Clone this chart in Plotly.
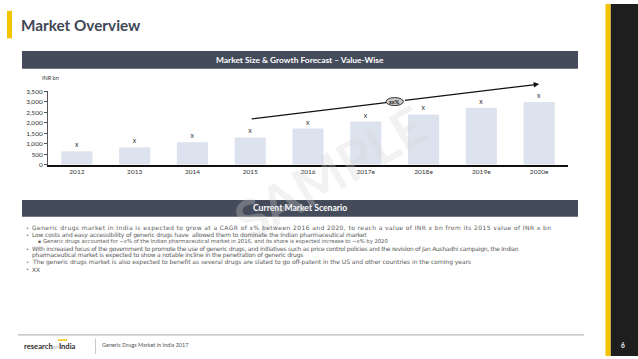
import plotly.graph_objects as go

W, H = 638, 359

years = ["2012", "2013", "2014", "2015", "2016", "2017e", "2018e", "2019e", "2020e"]
market_size = [650, 840, 1070, 1305, 1725, 2055, 2395, 2720, 2985]
bar_labels = ["x"] * len(years)
y_ticks = [0, 500, 1000, 1500, 2000, 2500, 3000, 3500]

cagr_label = "xx%"
trend_start = (3, 2180)     # (category index, value)
trend_end = (8, 3840)

bullets = [
    (0, "Generic drugs market in India is expected to grow at a CAGR of x% between 2016 and 2020, to reach a value of INR x bn from its 2015 value of INR x bn"),
    (0, "Low costs and easy accessibility of generic drugs have  allowed them to dominate the Indian pharmaceutical market"),
    (1, "Generic drugs accounted for ~x% of the Indian pharmaceutical market in 2016, and its share is expected increase to ~x% by 2020"),
    (0, "With increased focus of the government to promote the use of generic drugs, and initiatives such as price control policies and the revision of Jan Aushadhi campaign, the Indian"),
    (2, "pharmaceutical market is expected to show a notable incline in the penetration of generic drugs"),
    (0, "The generic drugs market is also expected to benefit as several drugs are slated to go off-patent in the US and other countries in the coming years"),
    (0, "XX"),
]
# per-line letter spacing (px), styling only
bullet_spacing = [0.4, -0.15, -0.03, -0.25, -0.2, -0.03, 0]

FONT = "Lato"
BFONT = "DejaVu Sans"
BAND = "#444b5b"
YEL = "#f5c400"


def px(x):
    return x / W


def py(y):
    return 1 - y / H


fig = go.Figure()
fig.add_trace(go.Bar(
    x=years, y=market_size, text=bar_labels, textposition="outside",
    marker=dict(color="#dde3ee", line=dict(width=0)),
    textfont=dict(family=FONT, size=7, color="#333333"),
    cliponaxis=False, hoverinfo="skip",
))

shapes = [
    dict(type="rect", xref="paper", yref="paper", x0=px(7), x1=px(12), y0=py(35), y1=py(7),
         fillcolor=YEL, line=dict(width=0)),
    dict(type="rect", xref="paper", yref="paper", x0=px(22), x1=px(578), y0=py(66), y1=py(48),
         fillcolor=BAND, line=dict(width=0)),
    dict(type="rect", xref="paper", yref="paper", x0=px(22), x1=px(578), y0=py(217), y1=py(200),
         fillcolor=BAND, line=dict(width=0)),
    dict(type="rect", xref="paper", yref="paper", x0=px(610.5), x1=1, y0=0, y1=1,
         fillcolor="#1e1e1e", line=dict(width=0)),
    dict(type="rect", xref="paper", yref="paper", x0=px(605.5), x1=px(610.5), y0=0, y1=1,
         fillcolor=YEL, line=dict(width=0)),
    dict(type="line", xref="paper", yref="paper", x0=px(18), x1=px(584), y0=py(337.5), y1=py(337.5),
         line=dict(color="#a6a6a6", width=1)),
    dict(type="line", xref="paper", yref="paper", x0=px(95.5), x1=px(95.5), y0=py(357), y1=py(341),
         line=dict(color="#bbbbbb", width=0.8)),
    dict(type="rect", xref="paper", yref="paper", x0=px(58), x1=px(67), y0=py(343.5), y1=py(342),
         fillcolor=YEL, line=dict(width=0)),
]

ex = (trend_start[0] + trend_end[0]) / 2
slope = (trend_end[1] - trend_start[1]) / (trend_end[0] - trend_start[0])
ey = trend_start[1] + slope * (ex - trend_start[0])
ew, eh = 0.15, 190
shapes.append(dict(type="circle", xref="x", yref="y", x0=ex - ew, x1=ex + ew, y0=ey - eh, y1=ey + eh,
                   fillcolor="#c9c9c9", line=dict(color="#333333", width=1)))

annotations = [
    dict(text="<b>Market Overview</b>", x=px(19), y=py(21), xref="paper", yref="paper",
         xanchor="left", yanchor="middle", showarrow=False,
         font=dict(family=FONT, size=15.3, color="#3f4656")),
    dict(text="<b>Market Size & Growth Forecast – Value-Wise</b>", x=px(300), y=py(57), xref="paper", yref="paper",
         xanchor="center", yanchor="middle", showarrow=False,
         font=dict(family=FONT, size=8.4, color="white")),
    dict(text="<b>Current Market Scenario</b>", x=px(300), y=py(208.5), xref="paper", yref="paper",
         xanchor="center", yanchor="middle", showarrow=False,
         font=dict(family=FONT, size=8.6, color="white")),
    dict(text="INR bn", x=px(40), y=py(75), xref="paper", yref="paper",
         xanchor="left", yanchor="middle", showarrow=False,
         font=dict(family=FONT, size=5.5, color="#333333")),
    dict(text="<b>SAMPLE</b>", x=px(330), y=py(172), xref="paper", yref="paper",
         xanchor="center", yanchor="middle", showarrow=False, textangle=-30,
         font=dict(family=FONT, size=54, color="rgba(212,212,212,0.3)")),
    dict(text="", x=ex - ew, y=trend_start[1] + slope * (ex - ew - trend_start[0]), xref="x", yref="y",
         ax=trend_start[0], ay=trend_start[1], axref="x", ayref="y",
         showarrow=True, arrowhead=0, arrowwidth=1.2, arrowcolor="#111111", standoff=0, startstandoff=0),
    dict(text="", x=trend_end[0], y=trend_end[1], xref="x", yref="y",
         ax=ex + ew, ay=trend_start[1] + slope * (ex + ew - trend_start[0]), axref="x", ayref="y",
         showarrow=True, arrowhead=2, arrowsize=0.9, arrowwidth=1.2, arrowcolor="#111111", standoff=0, startstandoff=0),
    dict(text="<b>" + cagr_label + "</b>", x=ex, y=ey, xref="x", yref="y", showarrow=False,
         font=dict(family=FONT, size=5.5, color="#222222")),
    dict(text="<b>research</b><span style='color:#b5b5b5;font-size:5.5px'>on</span><b>India</b>",
         x=px(22), y=py(349), xref="paper", yref="paper", xanchor="left", yanchor="middle", showarrow=False,
         font=dict(family=FONT, size=7.6, color="#2b2b2b")),
    dict(text="Generic Drugs Market in India 2017", x=px(100), y=py(348), xref="paper", yref="paper",
         xanchor="left", yanchor="middle", showarrow=False,
         font=dict(family=FONT, size=5.5, color="#555555")),
    dict(text="<b>6</b>", x=px(623), y=py(348), xref="paper", yref="paper",
         xanchor="center", yanchor="middle", showarrow=False,
         font=dict(family=FONT, size=6.5, color="white")),
]

line_y0, line_dy = 228.5, 7.0
for i, (lvl, txt) in enumerate(bullets):
    yy = py(line_y0 + i * line_dy)
    if lvl == 0:
        annotations.append(dict(text="•", x=px(24.5), y=yy, xref="paper", yref="paper", xanchor="left",
                                yanchor="middle", showarrow=False, borderpad=0,
                                font=dict(family=BFONT, size=5, color="#595959")))
        tx = 30.5
    elif lvl == 1:
        annotations.append(dict(text="▪", x=px(37), y=yy, xref="paper", yref="paper", xanchor="left",
                                yanchor="middle", showarrow=False, borderpad=0,
                                font=dict(family=BFONT, size=4.5, color="#595959")))
        tx = 42
    else:
        tx = 30.5
    styled = "<span style='letter-spacing:%.2fpx'>%s</span>" % (bullet_spacing[i], txt)
    annotations.append(dict(text=styled, x=px(tx), y=yy, xref="paper", yref="paper", xanchor="left",
                            yanchor="middle", showarrow=False, borderpad=0,
                            font=dict(family=BFONT, size=6.0 if lvl != 1 else 5.3, color="#595959")))

fig.update_layout(
    width=W, height=H, margin=dict(l=0, r=0, t=0, b=0),
    paper_bgcolor="white", plot_bgcolor="white",
    showlegend=False, bargap=0.46,
    xaxis=dict(domain=[px(48), px(568)], showgrid=False, showline=True, linecolor="#111111", linewidth=1.5,
               ticks="", tickfont=dict(family=FONT, size=6.5, color="#333333"), fixedrange=True),
    yaxis=dict(domain=[py(164), py(89)], range=[0, 3500], tickvals=y_ticks, tickformat=",",
               showgrid=False, showline=True, linecolor="#555555", linewidth=1, ticks="outside",
               ticklen=3, tickcolor="#555555", tickfont=dict(family=FONT, size=6.5, color="#333333"),
               zeroline=False, fixedrange=True),
    shapes=shapes, annotations=annotations,
)

fig.write_html("out.html", config={"displayModeBar": False},
               post_script="document.body.style.margin='0';document.body.style.overflow='hidden';")
